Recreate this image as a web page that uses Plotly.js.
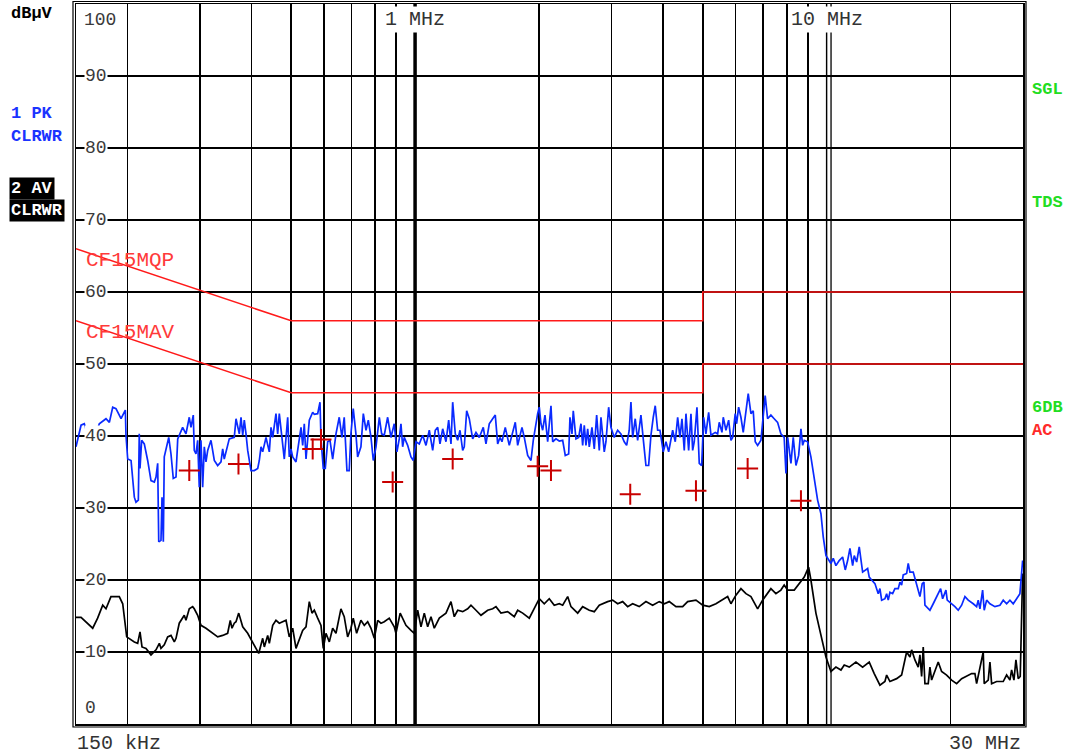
<!DOCTYPE html>
<html><head><meta charset="utf-8">
<script src="https://cdn.plot.ly/plotly-3.0.1.min.js"></script>
<style>html,body{margin:0;padding:0;background:#fff;}#chart{width:1066px;height:755px;}</style>
</head><body><div id="chart"></div>
<script>
// Frequencies in kHz, levels in dBµV
const pkFreq = [150.0,154.3,157.1,160.1,164.7,170.9,177.4,180.8,184.2,187.6,193.0,197.7,198.4,200.3,204.1,207.9,209.8,212.6,213.7,214.6,216.6,219.8,224.0,228.2,232.5,234.7,236.9,238.3,241.3,242.7,244.5,245.8,252.0,255.2,258.5,262.5,265.0,272.4,277.5,282.7,285.4,289.1,290.7,293.5,296.3,299.0,301.8,304.7,307.5,310.4,313.4,319.2,325.2,331.4,337.6,340.8,343.8,353.6,363.6,367.2,374.0,377.6,381.2,384.6,388.3,392.0,399.3,406.8,414.6,418.3,422.3,426.3,434.3,442.4,446.6,450.9,459.2,463.6,467.8,472.3,481.1,490.3,494.7,499.4,504.2,513.6,518.5,528.2,533.2,538.0,543.2,553.3,563.9,569.0,579.9,587.4,590.7,598.3,605.1,613.2,621.2,630.6,642.4,654.2,664.1,672.7,683.0,691.8,698.4,707.5,718.2,725.1,738.6,748.5,759.9,769.7,781.4,791.6,803.6,818.6,829.4,841.6,857.7,873.7,890.0,903.5,915.2,924.0,932.8,941.2,959.3,977.3,990.0,1005.0,1023.8,1043.4,1062.9,1082.7,1103.5,1119.6,1134.8,1149.5,1167.0,1188.7,1206.8,1222.4,1234.1,1252.2,1269.1,1285.5,1305.1,1316.8,1334.6,1354.2,1380.2,1405.9,1432.1,1464.5,1486.8,1514.5,1543.6,1566.2,1587.4,1607.9,1626.0,1656.3,1693.9,1726.4,1751.7,1775.4,1818.6,1842.1,1877.5,1912.5,1937.2,1985.5,2003.4,2022.5,2041.7,2068.3,2099.7,2138.9,2159.3,2199.5,2240.5,2283.5,2317.0,2361.5,2378.7,2405.5,2423.1,2459.9,2497.4,2529.7,2553.9,2576.9,2601.5,2626.3,2650.0,2690.3,2725.1,2761.9,2802.4,2829.2,2881.6,2909.1,2953.4,2991.6,3047.4,3105.9,3163.7,3222.7,3266.3,3314.1,3345.8,3377.8,3427.2,3473.6,3538.3,3584.1,3638.6,3694.1,3741.9,3790.3,3833.0,3884.8,3935.1,4009.0,4070.0,4131.9,4185.4,4225.4,4287.3,4345.2,4401.5,4451.1,4508.7,4551.8,4621.1,4680.9,4725.6,4768.1,4840.7,4903.4,4969.3,5025.2,5090.1,5167.8,5234.7,5362.2,5434.6,5483.5,5567.0,5607.6,5692.9,5779.6,5854.4,5910.3,5996.6,6043.8,6111.6,6190.9,6271.1,6366.6,6449.0,6547.2,6631.9,6706.5,6797.2,6923.8,6988.3,7090.5,7186.5,7320.4,7456.8,7600.0,7741.5,7885.9,7964.3,8040.4,8189.4,8296.2,8422.6,8550.7,8661.4,8744.2,8822.8,8989.9,9157.6,9328.1,9507.2,9686.2,9811.6,9960.9,10243,10376,10534,10730,10936,11097,11247,11392,11566,11670,11828,12001,12231,12578,12691,12863,13102,13346,13474,13603,13856,13989,14115,14250,14466,14654,14927,15069,15213,15350,15645,15785,15936,16233,16545,16853,17071,17234,17331,17823,18155,18503,18922,19135,19492,19634,20123,20499,20880,21281,21678,22082,22708,23144,23352,23575,23934,24149,24476,24932,25639,26366,26858,27373,27884,28403,28949,29488,29936];
const pkLevel = [38.5,41.5,41.7,40.1,38.9,41.7,42.4,41.9,44.0,43.8,42.4,43.6,40.1,36.8,36.6,31.5,30.8,31.1,40.3,35.5,39.4,38.9,36.6,33.8,33.6,34.3,36.2,25.3,25.5,31.5,25.3,37.1,39.8,37.5,34.1,34.3,39.6,41.2,40.3,42.6,41.2,42.9,38.0,37.5,39.4,32.9,39.4,32.9,38.5,36.4,38.0,39.4,36.6,35.9,36.4,38.2,36.8,39.6,39.8,42.4,40.3,42.6,40.1,42.2,40.3,38.0,35.2,35.2,35.5,36.6,38.5,37.8,39.8,37.8,41.2,39.8,43.1,40.3,43.1,40.8,36.8,42.6,37.1,38.2,37.1,36.4,38.0,41.2,38.7,41.7,36.8,42.2,43.3,43.0,43.1,44.7,39.6,35.5,35.5,39.2,39.4,36.8,40.3,42.6,39.8,42.6,35.2,35.2,40.3,43.8,40.3,37.1,38.5,43.1,40.8,42.2,39.8,36.6,38.5,42.6,40.3,40.1,42.6,39.8,41.7,37.8,39.6,41.7,38.5,39.8,38.7,37.1,36.6,39.2,38.9,40.1,38.7,40.8,38.0,40.8,41.2,38.9,41.0,39.2,42.2,38.9,44.7,40.3,39.4,40.8,38.0,38.5,43.5,42.4,39.6,40.5,39.8,41.2,38.9,41.7,42.4,42.9,38.9,39.8,39.2,41.2,38.7,40.5,41.9,38.7,41.2,39.8,37.3,36.6,39.4,43.1,44.0,41.7,40.8,42.9,39.2,44.2,39.2,39.6,39.3,39.4,37.3,37.5,42.6,40.3,43.5,39.6,39.8,41.7,38.7,41.5,38.7,41.0,38.5,41.2,38.2,42.9,38.0,42.6,37.8,39.2,44.0,41.2,39.8,40.8,40.3,39.2,38.7,40.8,44.7,39.8,42.4,39.4,42.9,39.6,35.9,35.9,40.1,42.6,44.2,40.8,40.8,37.8,39.2,37.8,39.8,40.8,39.2,42.6,39.8,42.4,38.0,43.1,38.0,43.1,38.0,39.2,44.0,36.2,35.9,42.6,40.3,43.3,40.1,40.5,40.3,41.9,40.5,42.6,40.8,42.2,39.4,39.8,43.1,41.7,44.0,42.6,40.5,43.1,45.9,43.1,43.5,39.2,38.7,39.4,42.2,45.6,42.4,42.9,42.4,41.9,40.3,39.8,34.8,39.8,36.2,39.8,35.9,37.3,41.0,38.7,39.4,39.2,37.1,33.8,31.1,29.2,26.0,23.4,22.3,23.0,22.0,22.7,23.2,21.4,22.7,24.4,22.0,23.4,22.5,24.6,21.1,21.6,20.4,20.0,19.5,18.1,18.8,17.2,17.4,18.1,17.2,18.3,18.1,18.8,18.8,19.7,19.3,20.7,20.9,22.3,21.1,21.1,19.5,17.7,19.5,19.7,16.5,15.8,16.7,17.7,18.8,17.4,18.6,17.2,16.7,16.3,15.8,16.5,17.7,17.2,16.7,16.3,17.2,16.0,18.6,15.8,17.2,16.7,16.3,16.5,17.2,16.7,17.2,16.7,17.4,18.1,22.7];

const avFreq = [150,154.3,164.7,169.3,174.2,177.4,182.4,191.1,194.8,199.2,207.9,211.8,214.6,217.0,221.9,228.2,234.7,239.1,241.3,245.8,250.5,255.2,260.0,262.5,267.3,274.9,277.5,282.7,288.1,290.7,296.3,301.8,310.4,322.3,331.4,340.8,350.4,355.6,359.0,363.6,367.2,372.8,381.2,392.0,403.1,416.9,426.3,430.2,438.4,442.4,450.9,459.2,467.8,476.8,485.7,494.7,504.2,513.6,523.2,533.2,543.2,553.3,561.7,569.0,579.9,590.7,598.3,607.4,618.8,630.6,642.4,660.4,672.7,685.7,698.4,707.5,721.1,738.6,752.7,767.1,781.4,796.0,811.3,826.4,841.6,865.4,890.0,898.5,920,950.2,977.3,995.5,1014.6,1033.6,1052.8,1073.0,1093.0,1113.4,1145.0,1188.7,1222.4,1245.2,1269.1,1305.1,1342.1,1367.1,1405.9,1445.8,1501.0,1543.6,1572.3,1616.9,1678.7,1741.9,1775.4,1825.7,1894.4,1930.7,1966.7,2003.4,2060.2,2118.6,2178.7,2240.5,2283.5,2348.3,2392.1,2483.4,2553.9,2650.0,2725.1,2802.4,2936.9,3020.2,3105.9,3194.0,3284.6,3377.8,3504.8,3638.6,3777.5,3919.7,4031.4,4145.8,4304.1,4468.5,4595.3,4813.7,4998,5185.2,5383.2,5483.5,5588.8,5747.4,5854.4,6020.2,6190.9,6366.6,6547.2,6797.2,6988.3,7186.5,7320.4,7528.0,7741.5,7885.9,8040.4,8342.8,8579.4,8822.8,9040.4,9157.6,9417.2,9686.2,9960.9,10243,10534,10833,11035,11348,11781,12231,12691,13051,13474,13856,13989,14250,14794,15213,15645,15936,16088,16388,16694,16853,17014,17167,17331,17654,17823,17993,18328,18670,19028,19568,20123,20694,21281,21885,22506,22925,23144,24015,24149,24696,24932,25170,25884,26858,27373,27884,28150,28515,28836,29209,29538,29936];
const avLevel = [14.8,14.8,13.3,14.7,16.5,16.0,17.7,17.7,16.7,12.1,11.4,11.2,12.8,10.7,10.5,9.6,10.3,11.2,10.5,11.0,12.1,12.3,11.4,11.9,14.0,15.1,14.4,16.0,16.3,16.0,15.1,13.7,13.3,12.6,12.1,12.3,12.6,14.4,13.3,14.0,14.2,15.4,13.5,12.6,11.4,9.8,11.9,10.7,12.3,11.2,13.7,14.4,14.0,14.2,14.4,12.1,13.3,10.5,11.9,13.0,13.5,17.0,15.4,15.8,14.7,13.7,10.5,12.6,11.4,13.3,12.6,16.0,14.9,12.1,13.3,14.7,12.6,14.4,13.7,14.2,13.3,11.9,14.4,14.0,14.2,14.7,13.5,12.6,15.4,13.7,13.0,12.6,15.8,13.5,15.4,13.5,14.9,13.3,14.7,15.4,17.0,14.9,15.8,15.6,16.0,16.5,15.8,15.1,15.8,16.0,16.3,15.4,15.6,14.9,15.8,15.4,14.7,15.6,16.3,17.4,16.7,17.4,16.5,16.7,16.5,17.7,16.3,15.4,16.3,15.8,15.6,16.5,17.0,17.2,16.7,17.0,16.3,16.7,16.3,17.0,16.5,17.0,16.7,17.0,16.3,16.3,17.0,17.2,16.5,16.3,16.7,17.0,17.2,17.7,16.7,17.9,18.8,18.1,17.7,16.0,17.2,18.1,18.8,18.1,18.6,19.3,18.6,18.6,19.5,20.4,21.8,20.0,15.4,12.1,9.3,7.3,7.9,7.5,8.2,7.9,8.6,7.9,8.6,7.0,5.4,5.9,6.8,5.9,6.3,6.8,10.0,9.3,10.3,8.9,7.9,9.6,6.6,10.7,5.6,5.6,7.9,6.1,7.3,8.6,7.3,6.8,6.1,5.6,6.3,6.6,7.0,7.0,5.6,10.0,5.6,6.1,8.6,5.6,5.9,5.9,6.8,6.1,7.5,6.1,8.9,6.3,6.6,20.9];

const qpLimFreq = [150, 500, 5000, 5000, 30000];
const qpLimLevel = [66, 56, 56, 60, 60];
const avLimFreq = [150, 500, 5000, 5000, 30000];
const avLimLevel = [56, 46, 46, 50, 50];

const finalFreq = [282.7, 372.3, 563.9, 590.7, 882.1, 1234.1, 1985.5, 2138.9, 3332.7, 4813.7, 6427.4, 8661.4];
const finalLevel = [35.2, 36.1, 38.2, 39.5, 33.6, 36.8, 35.8, 35.2, 31.9, 32.4, 35.5, 31.0];

const yTickVals = [10, 20, 30, 40, 50, 60, 70, 80, 90];

const MONO = 'Liberation Mono, Courier New, monospace';
const traces = [
  {x: qpLimFreq, y: qpLimLevel, mode: 'lines', line: {color: '#ff1a1a', width: 1.5}, hoverinfo: 'skip'},
  {x: avLimFreq, y: avLimLevel, mode: 'lines', line: {color: '#ff1a1a', width: 1.5}, hoverinfo: 'skip'},
  {x: avFreq, y: avLevel, mode: 'lines', line: {color: '#000000', width: 1.7}},
  {x: pkFreq, y: pkLevel, mode: 'lines', line: {color: '#0a2aff', width: 1.7}},
  {x: finalFreq, y: finalLevel, mode: 'markers', marker: {symbol: 'cross-thin', size: 15, color: '#c80000', line: {color: '#c80000', width: 2}}}
];

const ann = [];
yTickVals.forEach(v => ann.push({xref: 'paper', yref: 'y', x: 0, y: v, xanchor: 'left', yanchor: 'middle', xshift: 8,
  text: String(v), showarrow: false, bgcolor: 'white', borderpad: 0, font: {family: MONO, size: 18, color: '#3a3a3a'}}));
ann.push({xref: 'paper', yref: 'y', x: 0, y: 100, xanchor: 'left', yanchor: 'top', xshift: 7, yshift: -5, text: '100', showarrow: false, bgcolor: 'white', borderpad: 0, font: {family: MONO, size: 18, color: '#3a3a3a'}});
ann.push({xref: 'paper', yref: 'y', x: 0, y: 0, xanchor: 'left', yanchor: 'bottom', xshift: 8, yshift: 5, text: '0', showarrow: false, bgcolor: 'white', borderpad: 0, font: {family: MONO, size: 18, color: '#3a3a3a'}});
ann.push({xref: 'x', yref: 'paper', x: 3, y: 1, xanchor: 'center', yanchor: 'top', yshift: -2, text: '1 MHz', showarrow: false, bgcolor: 'white', borderpad: 1, font: {family: MONO, size: 20, color: '#333'}});
ann.push({xref: 'x', yref: 'paper', x: 4, y: 1, xanchor: 'center', yanchor: 'top', yshift: -2, text: '10 MHz', showarrow: false, bgcolor: 'white', borderpad: 1, font: {family: MONO, size: 20, color: '#333'}});
ann.push({xref: 'paper', yref: 'y', x: 0, y: 64.4, xanchor: 'left', yanchor: 'middle', xshift: 8, text: 'CF15MQP', showarrow: false, font: {family: MONO, size: 21, color: '#ff3a3a'}});
ann.push({xref: 'paper', yref: 'y', x: 0, y: 54.4, xanchor: 'left', yanchor: 'middle', xshift: 8, text: 'CF15MAV', showarrow: false, font: {family: MONO, size: 21, color: '#ff3a3a'}});
function side(text, xs, ys, color, bg, xa) {
  const a = {xref: 'paper', yref: 'paper', x: xa === 'right' ? 1 : 0, y: 1, xanchor: 'left', yanchor: 'middle', xshift: xs, yshift: ys,
    text: '<b>' + text + '</b>', showarrow: false, borderpad: 1, font: {family: MONO, size: 17, color: color}};
  if (bg) a.bgcolor = bg;
  ann.push(a);
}
side('dBµV', -67, -9, '#000', null);
side('1 PK', -67, -109, '#1a33ff', null);
side('CLRWR', -67, -132, '#1a33ff', null);
side('2 AV', -67, -184, '#ffffff', '#000000');
side('CLRWR', -67, -206, '#ffffff', '#000000');
side('SGL', 7, -85, '#22dd22', null, 'right');
side('TDS', 7, -198, '#22dd22', null, 'right');
side('6DB', 7, -403, '#22dd22', null, 'right');
side('AC', 7, -426, '#ff2a2a', null, 'right');
ann.push({xref: 'paper', yref: 'paper', x: 0, y: 0, xanchor: 'left', yanchor: 'middle', xshift: -1, yshift: -19, text: '150 kHz', showarrow: false, font: {family: MONO, size: 20, color: '#333'}});
ann.push({xref: 'paper', yref: 'paper', x: 1, y: 0, xanchor: 'right', yanchor: 'middle', xshift: 0, yshift: -19, text: '30 MHz', showarrow: false, font: {family: MONO, size: 20, color: '#333'}});

const layout = {
  width: 1066, height: 755,
  margin: {l: 76, r: 43, t: 4, b: 31, pad: 0},
  paper_bgcolor: 'white', plot_bgcolor: 'white',
  showlegend: false,
  xaxis: {type: 'log', range: [Math.log10(150), Math.log10(30000)], dtick: 'D1', showgrid: true, gridcolor: '#000', gridwidth: 1.6,
    showticklabels: false, ticks: '', zeroline: false, showline: true, mirror: true, linecolor: '#000', linewidth: 1.5},
  yaxis: {range: [0, 100], dtick: 10, showgrid: true, gridcolor: '#000', gridwidth: 1.6, showticklabels: false, ticks: '',
    zeroline: false, showline: true, mirror: true, linecolor: '#000', linewidth: 1.5},
  shapes: [
    {type: 'line', xref: 'x', yref: 'paper', x0: 1000, x1: 1000, y0: 0, y1: 1, line: {color: '#000', width: 3.5}, layer: 'between'},
    {type: 'line', xref: 'x', yref: 'paper', x0: 10000, x1: 10000, y0: 0, y1: 1, line: {color: '#222', width: 1.5}, layer: 'between'},
    {type: 'line', xref: 'x', yref: 'paper', x0: 10250, x1: 10250, y0: 0, y1: 1, line: {color: '#222', width: 1.5}, layer: 'between'},
    {type: 'rect', xref: 'paper', yref: 'paper', x0: -3/947, x1: 1 + 3/947, y0: -3/720, y1: 1 + 2.5/720, line: {color: '#000', width: 1.2}, fillcolor: 'rgba(0,0,0,0)', layer: 'above'}
  ],
  annotations: ann
};
Plotly.newPlot('chart', traces, layout, {staticPlot: true, displayModeBar: false});
</script></body></html>
